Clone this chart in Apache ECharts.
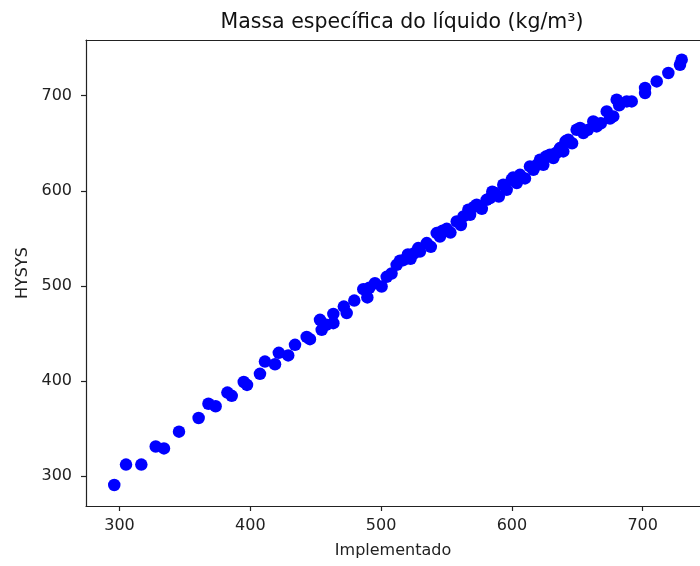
<!DOCTYPE html>
<html>
<head>
<meta charset="utf-8">
<script src="https://cdn.jsdelivr.net/npm/echarts@6/dist/echarts.min.js"></script>
<style>
  html, body { margin: 0; padding: 0; background: #fff; }
  #chart { width: 700px; height: 566px; }
</style>
</head>
<body>
<div id="chart"></div>
<script>
// Liquid density: implemented model vs. HYSYS (kg/m³)
const implementado = [
  296, 305, 316.7, 327.7, 334, 345.5, 360.5, 368, 373.5, 382.5,
  385.8, 395, 397.5, 407.4, 411.2, 418.9, 421.8, 429, 434.2, 443.1,
  445.6, 453.3, 454.6, 458, 463.5, 463.5, 471.5, 473.7, 479.5, 486.4,
  489.5, 495.3, 500.4, 504.3, 508, 511.9, 514.4, 520.5, 522.5, 528.4,
  529.7, 534.9, 538, 542.5, 545, 550.2, 553, 557.8, 561, 566.7,
  568, 573.1, 577, 580.7, 583.3, 587.1, 590, 593.4, 596, 599.8,
  603.7, 606.2, 610, 613.8, 616.4, 619, 621.5, 624, 629.1, 631.7,
  634, 636.8, 639.3, 643.1, 646, 649.5, 652.1, 654.6, 658, 662.2,
  664.8, 668, 672.5, 675, 677.5, 680.1, 682, 687.8, 691.6, 701.8,
  701.8, 710.7, 719.6, 728.5, 729.8,
  // extra readings in the dense middle band
  491, 517, 525, 547, 563, 571, 585, 601, 626, 641
];
const hysys = [
  290.5, 312, 312, 331, 329, 346.6, 361, 376, 373.3, 387.7,
  384.3, 398.8, 395.8, 407.4, 420.3, 417.5, 429.5, 426.8, 437.9, 446.3,
  443.9, 464.2, 453.7, 459, 470.5, 460.7, 478.2, 471.3, 484.5, 496.5,
  487.8, 502.8, 499.3, 509.5, 513, 522.1, 526.5, 533, 528.5, 539.7,
  536, 545, 541, 555.5, 551.9, 560, 556, 567.7, 564, 580,
  574.7, 585.3, 581, 590.5, 592.3, 597.6, 594, 606.3, 601, 611.6,
  608.1, 616.8, 613, 625.6, 622.1, 627, 632.6, 627.4, 637.9, 634.4,
  640, 644.9, 641.4, 653.7, 650, 664.2, 666, 660.7, 664, 672.9,
  667.7, 671, 683.5, 676, 678.2, 695.8, 690, 694, 694, 708.1,
  702.8, 715, 723.9, 732.6, 737.9,
  498, 527, 534, 558, 573, 583, 599, 614, 636, 652
];
const xTicks = [300, 400, 500, 600, 700];
const yTicks = [300, 400, 500, 600, 700];

const FONT = 'DejaVu Sans';
const INK = '#222';
const X_MIN = 274.4, X_MAX = 743.8;
const Y_MIN = 268.4, Y_MAX = 758.6;

const points = implementado.map((x, i) => [x, hysys[i]]);

const chart = echarts.init(document.getElementById('chart'), null, { renderer: 'canvas' });
chart.setOption({
  animation: false,
  backgroundColor: '#fff',
  title: {
    text: 'Massa específica do líquido (kg/m³)',
    left: 397,
    textAlign: 'center',
    top: 7,
    textStyle: { fontFamily: FONT, fontSize: 20.5, fontWeight: 'normal', color: '#111' }
  },
  grid: { left: 86, top: 40, right: 0, height: 466, show: false },
  xAxis: [{
    type: 'value',
    min: X_MIN, max: X_MAX,
    name: 'Implementado',
    nameLocation: 'middle',
    nameGap: 37,
    nameTextStyle: { fontFamily: FONT, fontSize: 16, color: INK },
    axisLine: { show: true, onZero: false, lineStyle: { color: INK, width: 1.2 } },
    axisTick: { show: true, length: 5, customValues: xTicks, lineStyle: { color: INK, width: 1.2 } },
    axisLabel: { customValues: xTicks, margin: 12, fontFamily: FONT, fontSize: 16, color: INK },
    splitLine: { show: false }
  }, {
    // top frame line
    type: 'value',
    position: 'top',
    min: X_MIN, max: X_MAX,
    axisLine: { show: true, onZero: false, lineStyle: { color: INK, width: 1.2 } },
    axisTick: { show: false },
    axisLabel: { show: false },
    splitLine: { show: false }
  }],
  yAxis: {
    type: 'value',
    min: Y_MIN, max: Y_MAX,
    name: 'HYSYS',
    nameLocation: 'middle',
    nameGap: 55,
    nameTextStyle: { fontFamily: FONT, fontSize: 16, color: INK },
    axisLine: { show: true, onZero: false, lineStyle: { color: INK, width: 1.2 } },
    axisTick: { show: true, length: 5, customValues: yTicks, lineStyle: { color: INK, width: 1.2 } },
    axisLabel: { customValues: yTicks, margin: 14, fontFamily: FONT, fontSize: 16, color: INK },
    splitLine: { show: false }
  },
  series: [{
    type: 'scatter',
    xAxisIndex: 0,
    data: points,
    symbol: 'circle',
    symbolSize: 12.5,
    itemStyle: { color: '#0000ff', opacity: 1 }
  }]
});
</script>
</body>
</html>
